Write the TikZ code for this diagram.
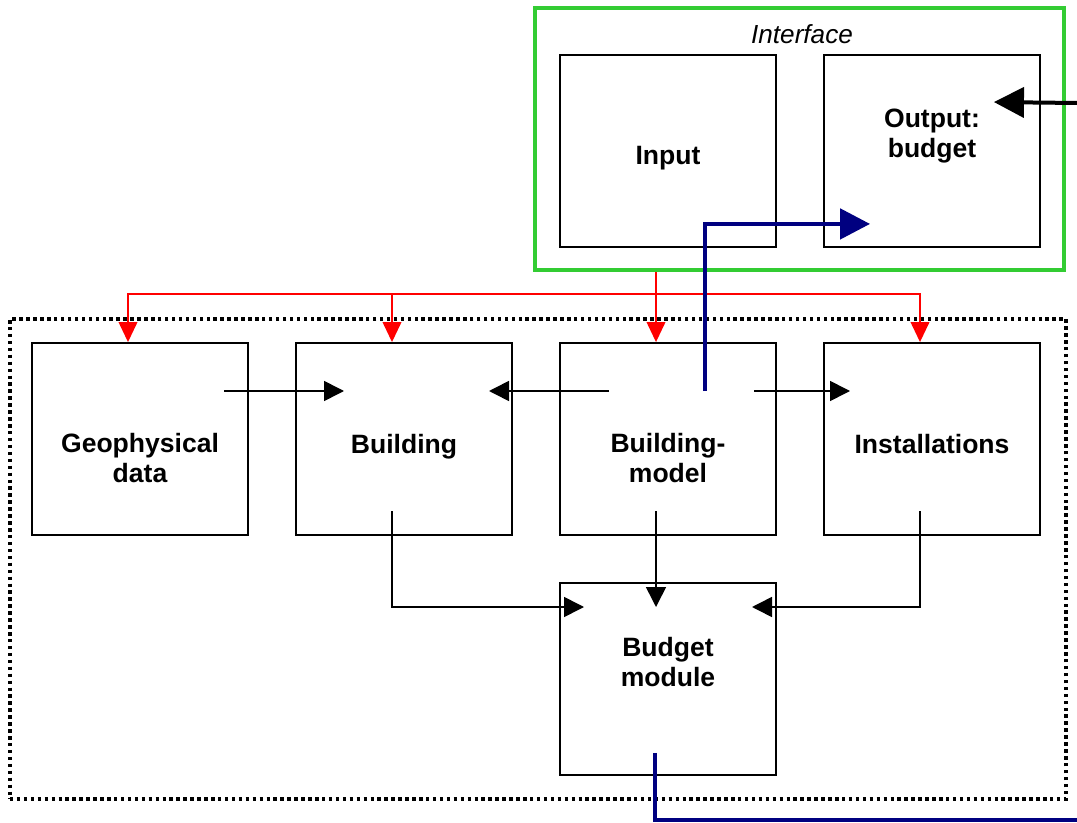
\documentclass[tikz,border=0pt]{standalone}
\usepackage{fontspec}
\setmainfont{Liberation Sans}
\usetikzlibrary{arrows.meta,calc}
\definecolor{ifgreen}{RGB}{51,204,51}
\definecolor{flowblue}{RGB}{0,0,128}
\tikzset{
  box/.style={draw=black, line width=1.4pt, inner sep=0pt,
    minimum width=162pt, minimum height=144pt},
  lbl/.style={font=\bfseries\fontsize{19.9}{22.5}\selectfont, align=center,
    inner sep=0pt, anchor=base},
  link/.style={line width=1.2pt, -{Triangle[length=15pt,width=15pt]}},
  feed/.style={draw=red, line width=1.2pt, -{Triangle[length=15pt,width=14pt]}},
  bigflow/.style={line width=3.6pt, -{Triangle[length=22.5pt,width=22.5pt]}},
}
\begin{document}
\begin{tikzpicture}[x=0.75pt,y=-0.75pt]
\useasboundingbox (0,0) rectangle (1077,823);

% interface frame and module frame
\node[draw=ifgreen, line width=3pt, inner sep=0pt,
  minimum width=396.75pt, minimum height=196.5pt] (iface) at (799.5,139) {};
\node[draw=black, line width=2.7pt, dash pattern=on 2.6pt off 2.6pt, inner sep=0pt,
  minimum width=792pt, minimum height=360pt] (core) at (538,559) {};
\node[font=\itshape\fontsize{19.6}{22.5}\selectfont, inner sep=0pt, anchor=base]
  (ifacetitle) at (802,44) {Interface};

% boxes
\node[box] (inp) at (668,151) {};
\node[box] (outp) at (932,151) {};
\node[box] (geo) at (140,439) {};
\node[box] (bld) at (404,439) {};
\node[box] (bm) at (668,439) {};
\node[box] (inst) at (932,439) {};
\node[box] (bud) at (668,679) {};

% labels (base anchor = baseline of the last line)
\node[lbl] (inpT) at (668,165) {Input};
\node[lbl] (outpT) at (932,158) {Output:\\budget};
\node[lbl] (geoT) at (140,482) {Geophysical\\data};
\node[lbl] (bldT) at (404,453) {Building};
\node[lbl] (bmT) at (668,482) {Building-\\model};
\node[lbl] (instT) at (932,453) {Installations};
\node[lbl] (budT) at (668,686) {Budget\\module};

% red distribution from the interface
\coordinate (split) at ($(bm.north)+(-12,-48)$);
\draw[feed] ($(iface.south)+(-143.5,0)$) -- ($(bm.north)+(-12,0)$);
\draw[feed] (split) -| ($(geo.north)+(-12,0)$);
\draw[feed] (split) -| ($(inst.north)+(-12,0)$);
\draw[feed] ($(bld.north)+(-12,-48)$) -- ($(bld.north)+(-12,0)$);

% links between modules
\draw[link] ($(geo.center)+(84,-48)$) -- ($(bld.center)+(-60,-48)$);
\draw[link] ($(bm.center)+(-59,-48)$) -- ($(bld.center)+(85,-48)$);
\draw[link] ($(bm.center)+(86,-48)$) -- ($(inst.center)+(-82,-48)$);
\draw[link] ($(bm.center)+(-12,72)$) -- ($(bud.center)+(-12,-72)$);
\draw[link] ($(bld.center)+(-12,72)$) |- ($(bud.center)+(-84,-72)$);
\draw[link] ($(inst.center)+(-12,72)$) |- ($(bud.center)+(84,-72)$);

% main flows
\draw[bigflow, draw=flowblue]
  ($(bm.center)+(37,-48)$) |- ($(outp.south west)+(47,-24)$);
\coordinate (extin) at (1077,103);
\draw[bigflow, line width=3pt] (extin) -- ($(outp.north east)+(-47,48)$);
\coordinate (extout) at (1077,820);
\draw[draw=flowblue, line width=3pt] ($(bud.south)+(-13,-23)$) |- (extout);
\end{tikzpicture}
\end{document}
